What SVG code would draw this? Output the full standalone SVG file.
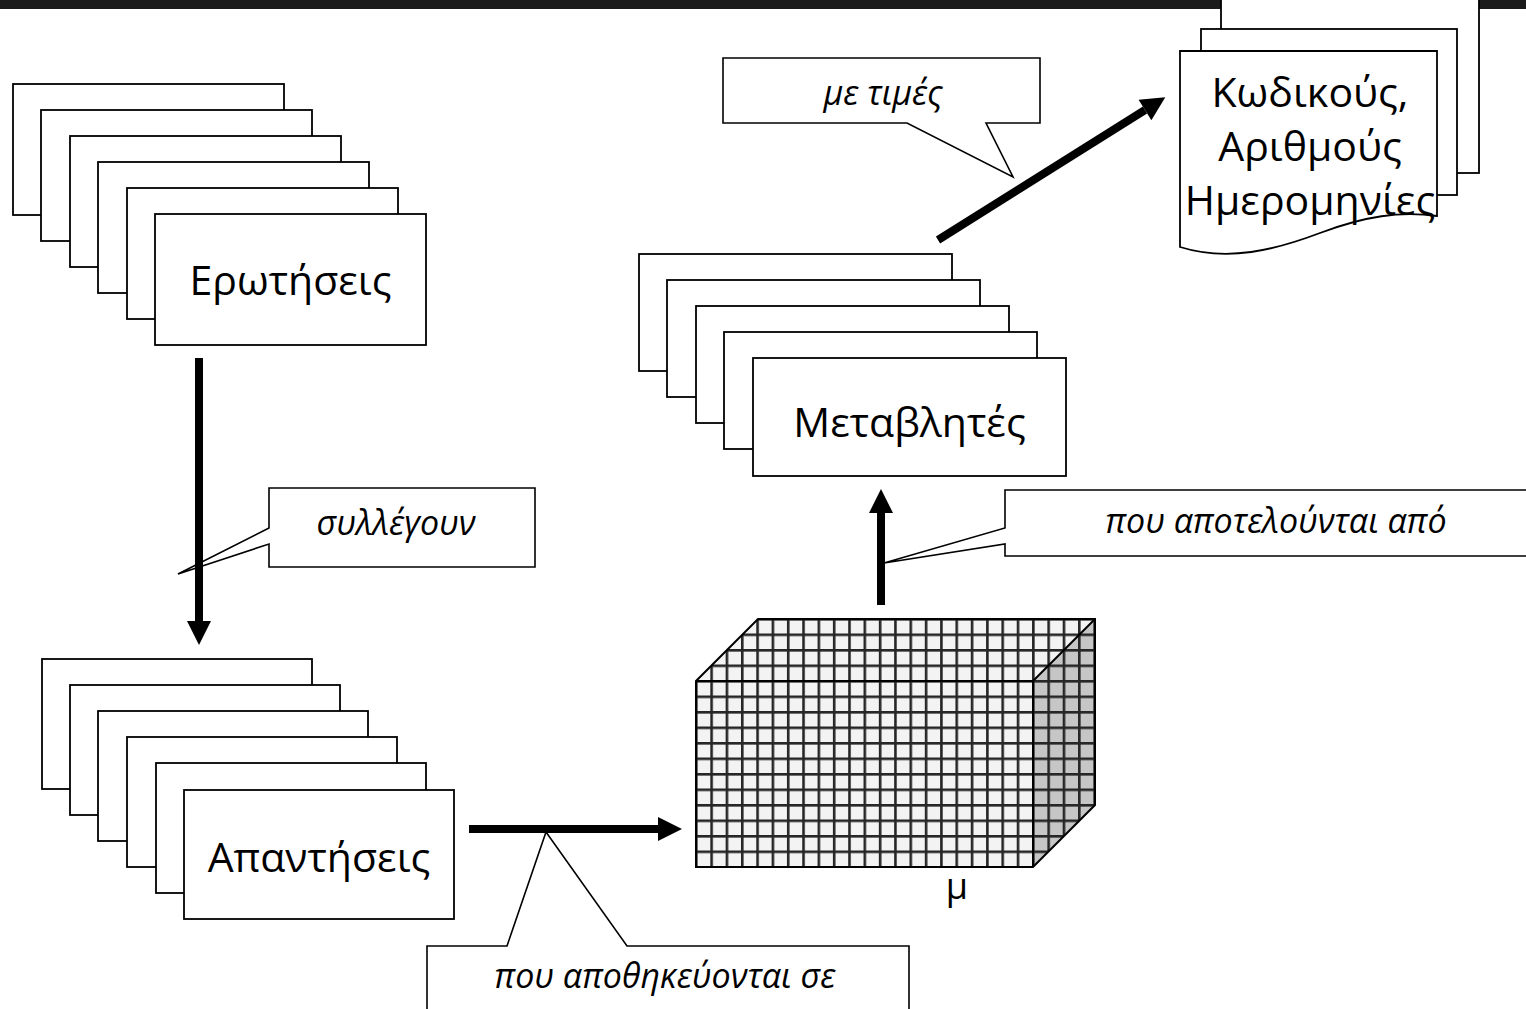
<svg xmlns="http://www.w3.org/2000/svg" width="1526" height="1009" viewBox="0 0 1526 1009">
<style>
.pg{fill:#fff;stroke:#000;stroke-width:1.8}
.lbl{font-family:"Open Sans","Noto Sans","DejaVu Sans",sans-serif;font-size:41px;fill:#000;text-anchor:middle}
.it{font-family:"Open Sans","Noto Sans","DejaVu Sans",sans-serif;font-size:34px;font-style:italic;fill:#000;text-anchor:middle}
.mu{font-family:"Open Sans","Noto Sans","DejaVu Sans",sans-serif;font-size:36px;fill:#000;text-anchor:middle}
.co{fill:#fff;stroke:#000;stroke-width:1.6;stroke-linejoin:miter}
.ar{fill:none;stroke:#000;stroke-width:8}
</style>
<defs>
<marker id="ah" markerUnits="userSpaceOnUse" markerWidth="24" markerHeight="24" viewBox="0 0 24 24" refX="0" refY="12" orient="auto" overflow="visible">
<path d="M0,0 L24,12 L0,24 Z" fill="#000"/>
</marker>
<pattern id="gridL" patternUnits="userSpaceOnUse" x="695" y="680" width="15.32" height="15.5">
<rect width="15.32" height="15.5" fill="#f3f3f3"/>
<rect width="2.6" height="15.5" fill="#262626"/>
<rect width="15.32" height="2.6" fill="#262626"/>
</pattern>
<pattern id="gridD" patternUnits="userSpaceOnUse" x="695" y="680" width="15.32" height="15.5">
<rect width="15.32" height="15.5" fill="#c6c6c6"/>
<rect width="2.6" height="15.5" fill="#262626"/>
<rect width="15.32" height="2.6" fill="#262626"/>
</pattern>
</defs>
<rect width="1526" height="1009" fill="#fff"/>
<rect x="0" y="0" width="1526" height="9" fill="#1b1b1b"/>

<g id="erotiseis">
<rect class="pg" x="13" y="84" width="271" height="131"/>
<rect class="pg" x="41" y="110" width="271" height="131"/>
<rect class="pg" x="70" y="136" width="271" height="131"/>
<rect class="pg" x="98" y="162" width="271" height="131"/>
<rect class="pg" x="127" y="188" width="271" height="131"/>
<rect class="pg" x="155" y="214" width="271" height="131"/>
<text class="lbl" x="290.5" y="295">Ερωτήσεις</text>
</g>

<g id="apantiseis">
<rect class="pg" x="42" y="659" width="270" height="130"/>
<rect class="pg" x="70" y="685" width="270" height="130"/>
<rect class="pg" x="98" y="711" width="270" height="130"/>
<rect class="pg" x="127" y="737" width="270" height="130"/>
<rect class="pg" x="156" y="763" width="270" height="130"/>
<rect class="pg" x="184" y="790" width="270" height="129"/>
<text class="lbl" x="319" y="872">Απαντήσεις</text>
</g>

<g id="metavlites">
<rect class="pg" x="639" y="254" width="313" height="117"/>
<rect class="pg" x="667" y="280" width="313" height="117"/>
<rect class="pg" x="696" y="306" width="313" height="117"/>
<rect class="pg" x="724" y="332" width="313" height="117"/>
<rect class="pg" x="753" y="358" width="313" height="118"/>
<text class="lbl" x="909.5" y="437">Μεταβλητές</text>
</g>

<g id="kodikous">
<rect class="pg" x="1221" y="-5" width="258" height="178"/>
<rect class="pg" x="1201" y="29" width="256" height="166"/>
<path class="pg" d="M1180,51 H1437 V216 C1400,211 1365,216 1320,233 C1275,250 1228,262 1180,247 Z"/>
<text class="lbl" x="1310" y="107">Κωδικούς,</text>
<text class="lbl" x="1310" y="161">Αριθμούς</text>
<text class="lbl" x="1310" y="215">Ημερομηνίες</text>
</g>

<g id="cube">
<polygon points="696,681 758,619 1095,619 1033,681" fill="url(#gridL)"/>
<polygon points="1033,681 1095,619 1095,805 1033,867" fill="url(#gridD)"/>
<rect x="696" y="681" width="337" height="186" fill="url(#gridL)"/>
<path d="M696,681 L758,619 H1095 V805 L1033,867 H696 Z M696,681 H1033 V867 M1033,681 L1095,619" fill="none" stroke="#000" stroke-width="2"/>
</g>

<g id="label-mu">
<text class="mu" x="957" y="899">μ</text>
</g>

<g id="callout-syllegoun">
<path class="co" d="M269,488 H535 V567 H269 V544 L178,574 L269,528 Z"/>
<text class="it" x="396" y="535">συλλέγουν</text>
</g>

<g id="callout-me-times">
<path class="co" d="M723,58 H1040 V123 H986 L1013,177 L907,123 H723 Z"/>
<text class="it" x="883" y="105">με τιμές</text>
</g>

<g id="callout-apothikevontai">
<path class="co" d="M427,1015 V946 H507 L546,832 L627,946 H909 V1015"/>
<text class="it" x="665" y="988">που αποθηκεύονται σε</text>
</g>

<g id="callout-apotelountai">
<path class="co" d="M1535,490 H1005 V528 L884,563 L1005,544 V556 H1535"/>
<text class="it" x="1276" y="533">που αποτελούνται από</text>
</g>

<g id="connectors">
<line class="ar" x1="199" y1="358" x2="199" y2="621" marker-end="url(#ah)"/>
<line class="ar" x1="469" y1="829" x2="658" y2="829" marker-end="url(#ah)"/>
<line class="ar" x1="881" y1="605" x2="881" y2="513" marker-end="url(#ah)"/>
<line class="ar" x1="938" y1="240" x2="1145" y2="110" marker-end="url(#ah)"/>
</g>
</svg>
